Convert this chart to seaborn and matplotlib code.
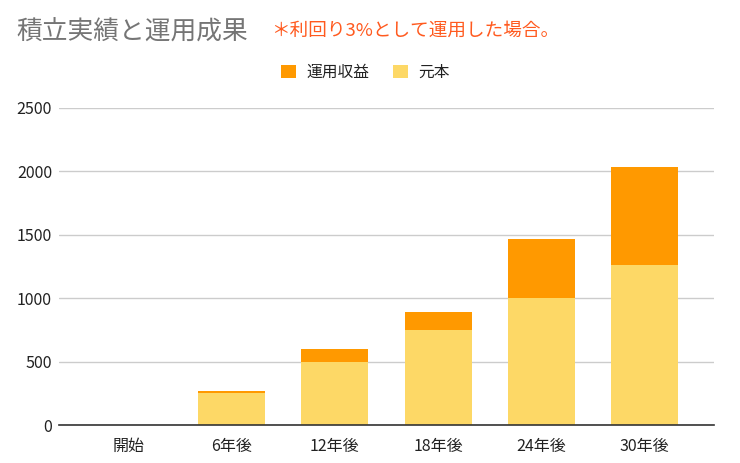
import matplotlib
matplotlib.use("Agg")
import matplotlib.pyplot as plt
import seaborn as sns
import pandas as pd
import numpy as np

categories = ["開始", "6年後", "12年後", "18年後", "24年後", "30年後"]
principal = [0, 250, 500, 750, 1000, 1260]
returns = [0, 18, 100, 140, 466, 777]
yticks = [0, 500, 1000, 1500, 2000, 2500]

sns.set_theme(style="white")
plt.rcParams['font.family'] = ['Noto Sans CJK JP', 'DejaVu Sans']

df = pd.DataFrame({
    "cat": categories,
    "元本": principal,
    "運用収益": returns,
})
df["total"] = df["元本"] + df["運用収益"]

fig = plt.figure(figsize=(7.4, 4.63), dpi=100)
ax = fig.add_axes([59/740, 38/463, (714-59)/740, (425-108)/463])

c_ret = "#FF9900"
c_pri = "#FDD866"

sns.barplot(data=df, x="cat", y="total", color=c_ret, width=0.65, ax=ax,
            saturation=1, label="運用収益", linewidth=0, edgecolor="none")
sns.barplot(data=df, x="cat", y="元本", color=c_pri, width=0.65, ax=ax,
            saturation=1, label="元本", linewidth=0, edgecolor="none")

ax.set_xlim(-0.67, 5.67)
ax.set_ylim(0, 2500)
ax.set_yticks(yticks)
ax.set_yticklabels([str(v) for v in yticks])
ax.yaxis.grid(True, color="#CCCCCC", linewidth=1)
ax.set_axisbelow(True)
for s in ["top", "right", "left"]:
    ax.spines[s].set_visible(False)
ax.spines["bottom"].set_color("#333333")
ax.spines["bottom"].set_linewidth(1.2)
ax.set_xlabel("")
ax.set_ylabel("")
ax.tick_params(axis="y", length=0, pad=5, labelsize=11.5, labelcolor="#222222")
ax.tick_params(axis="x", length=0, pad=9, labelsize=11.5, labelcolor="#222222")

leg = ax.legend(loc="center", bbox_to_anchor=(((281 + 450) / 2 - 59) / 655, 1 + (108 - 72.5) / 317),
                ncol=2, frameon=False, fontsize=11.3, handlelength=0.96, handleheight=0.96,
                handletextpad=0.7, columnspacing=1.45)
for t in leg.get_texts():
    t.set_color("#222222")

fig.text(16/740, 1 - 40/463, "積立実績と運用成果", fontsize=18.5, color="#757575",
         ha="left", va="baseline")
fig.text(271/740, 1 - 36/463, "＊利回り3%として運用した場合。", fontsize=13.4,
         color="#FF5A1F", ha="left", va="baseline")

fig.savefig("out.png", dpi=100)
